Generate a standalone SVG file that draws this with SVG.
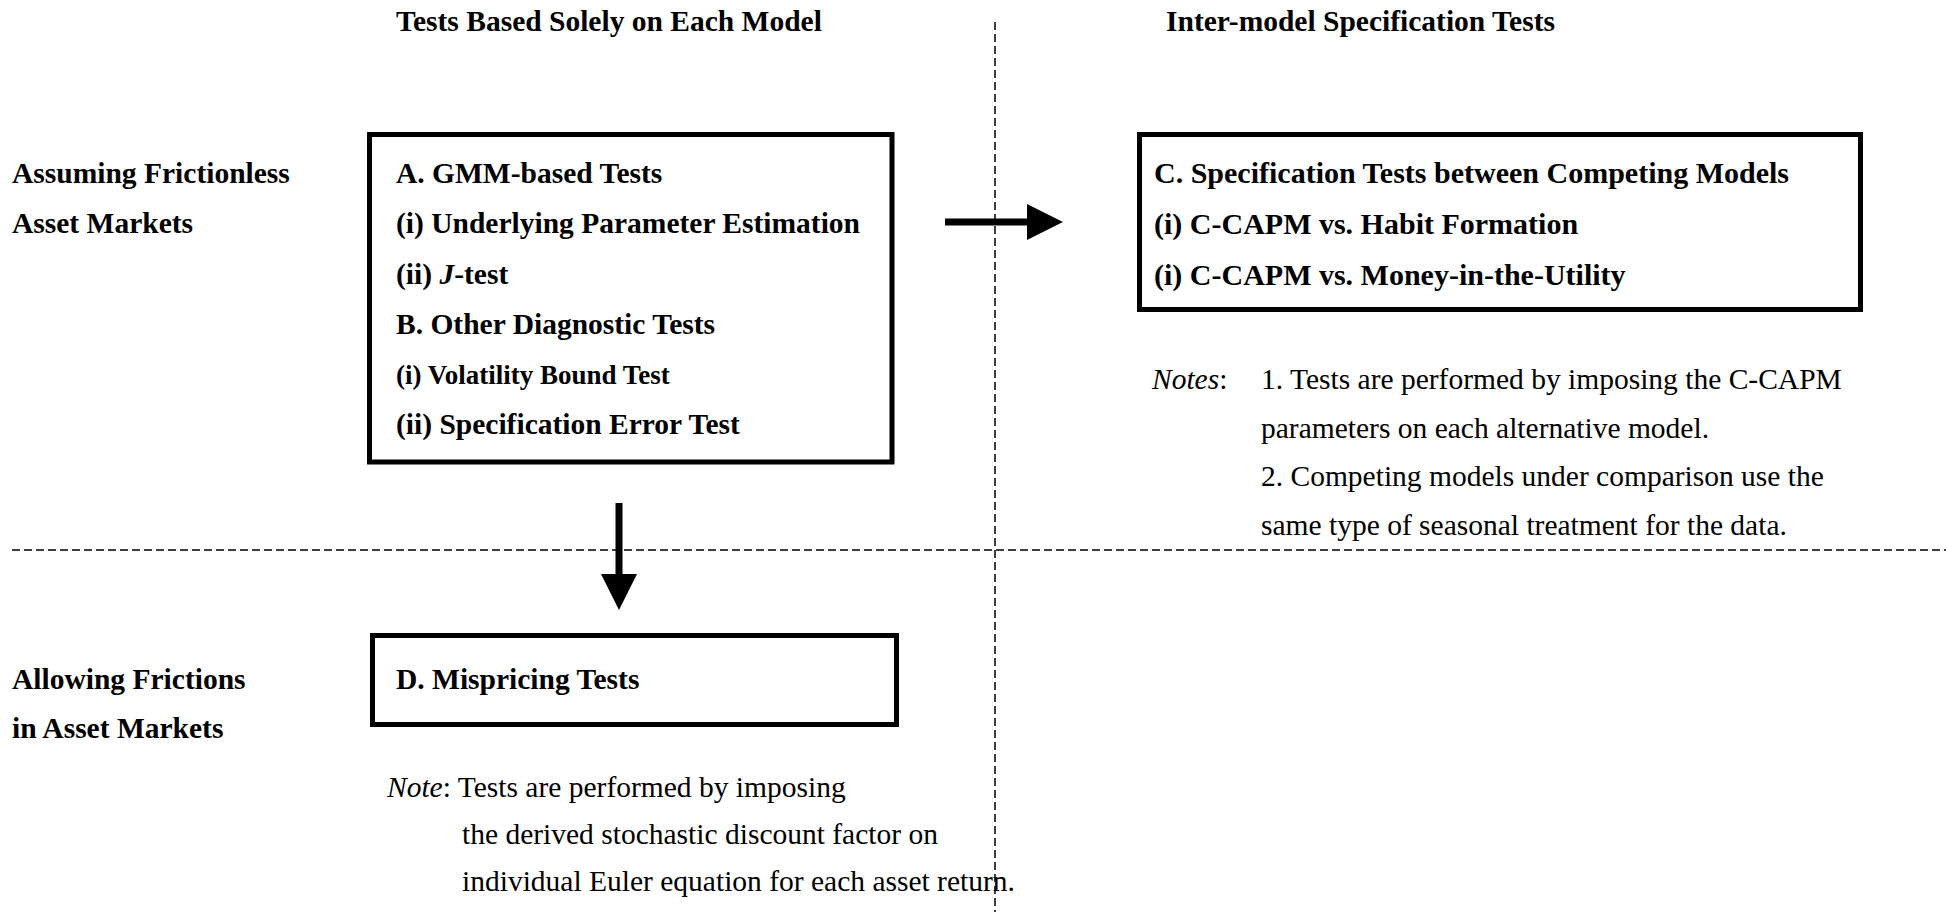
<svg xmlns="http://www.w3.org/2000/svg" width="1946" height="912" viewBox="0 0 1946 912">
<defs>
<marker id="head" markerUnits="userSpaceOnUse" markerWidth="36" markerHeight="36" viewBox="0 0 36 36" refX="0" refY="18" orient="auto">
<path d="M0,0 L36,18 L0,36 Z" fill="#000"/>
</marker>
<style>
text { font-family: "Liberation Serif", "Times New Roman", serif; font-size: 29.5px; fill: #000; }
.b { font-weight: bold; }
.i { font-style: italic; }
.c { font-size: 30px; }
.box { fill: none; stroke: #000; stroke-width: 5; }
.dash { stroke: #000; stroke-width: 1.5; stroke-dasharray: 8 4; fill: none; }
.arrow { stroke: #000; stroke-width: 7; fill: none; marker-end: url(#head); }
</style>
</defs>
<rect width="1946" height="912" fill="#fff"/>

<g id="grid">
<line class="dash" x1="995" y1="22" x2="995" y2="912"/>
<line class="dash" x1="12" y1="550" x2="1946" y2="550"/>
</g>

<g id="headers">
<text class="b" x="396" y="31">Tests Based Solely on Each Model</text>
<text class="b" x="1166" y="31">Inter-model Specification Tests</text>
</g>

<g id="row-labels">
<text class="b" x="12" y="183">Assuming Frictionless</text>
<text class="b" x="12" y="233">Asset Markets</text>
<text class="b" x="12" y="689">Allowing Frictions</text>
<text class="b" x="12" y="738">in Asset Markets</text>
</g>

<g id="nodeA">
<rect class="box" x="369.5" y="134.5" width="522.5" height="327.5"/>
<text class="b" x="396" y="183">A. GMM-based Tests</text>
<text class="b" x="396" y="233">(i) Underlying Parameter Estimation</text>
<text class="b" x="396" y="284">(ii) <tspan class="i">J</tspan>-test</text>
<text class="b" x="396" y="334">B. Other Diagnostic Tests</text>
<text class="b" x="396" y="384" style="font-size:27px">(i) Volatility Bound Test</text>
<text class="b" x="396" y="434">(ii) Specification Error Test</text>
</g>

<g id="nodeC">
<rect class="box" x="1139.5" y="134.5" width="721" height="175"/>
<text class="b c" x="1154" y="183">C. Specification Tests between Competing Models</text>
<text class="b c" x="1154" y="234">(i) C-CAPM vs. Habit Formation</text>
<text class="b c" x="1154" y="285">(i) C-CAPM vs. Money-in-the-Utility</text>
</g>

<g id="notesC">
<text x="1152" y="389"><tspan class="i">Notes</tspan>:</text>
<text x="1261" y="389">1. Tests are performed by imposing the C-CAPM</text>
<text x="1261" y="438">parameters on each alternative model.</text>
<text x="1261" y="486">2. Competing models under comparison use the</text>
<text x="1261" y="535">same type of seasonal treatment for the data.</text>
</g>

<g id="nodeD">
<rect class="box" x="372.5" y="635.5" width="524" height="89"/>
<text class="b" x="396" y="689">D. Mispricing Tests</text>
</g>

<g id="notesD">
<text x="387" y="797"><tspan class="i">Note</tspan>: Tests are performed by imposing</text>
<text x="462" y="844">the derived stochastic discount factor on</text>
<text x="462" y="891">individual Euler equation for each asset return.</text>
</g>

<g id="connectors">
<line class="arrow" x1="945" y1="222" x2="1027" y2="222"/>
<line class="arrow" x1="619" y1="503" x2="619" y2="574"/>
</g>
</svg>
